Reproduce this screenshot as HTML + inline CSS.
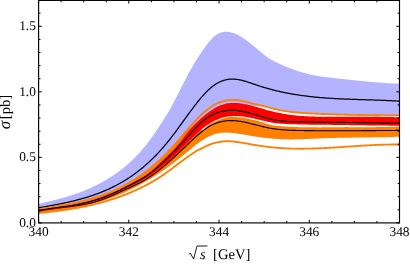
<!DOCTYPE html>
<html><head><meta charset="utf-8"><style>
html,body{margin:0;padding:0;background:#fff;}
body{width:410px;height:264px;overflow:hidden;font-family:"Liberation Serif",serif;}
svg{display:block;}
text{font-family:"Liberation Serif",serif;fill:#000;}
</style></head><body>
<svg width="410" height="264" viewBox="0 0 410 264">
<rect width="410" height="264" fill="#fff"/>
<defs><filter id="tf" x="0" y="0" width="410" height="264" filterUnits="userSpaceOnUse"><feOffset dx="0" dy="0"/></filter><clipPath id="c"><rect x="38.6" y="0.4" width="360.9" height="222.5"/></clipPath></defs>
<g clip-path="url(#c)">
<path d="M38.60,203.90 L39.50,203.70 L40.41,203.49 L41.31,203.28 L42.22,203.08 L43.12,202.87 L44.03,202.66 L44.93,202.45 L45.84,202.24 L46.74,202.02 L47.65,201.81 L48.55,201.59 L49.45,201.37 L50.36,201.15 L51.26,200.93 L52.17,200.71 L53.07,200.48 L53.98,200.26 L54.88,200.03 L55.79,199.80 L56.69,199.56 L57.59,199.32 L58.50,199.08 L59.40,198.84 L60.31,198.59 L61.21,198.35 L62.12,198.09 L63.02,197.84 L63.93,197.58 L64.83,197.32 L65.74,197.05 L66.64,196.78 L67.54,196.51 L68.45,196.23 L69.35,195.95 L70.26,195.67 L71.16,195.38 L72.07,195.08 L72.97,194.79 L73.88,194.48 L74.78,194.18 L75.68,193.87 L76.59,193.55 L77.49,193.23 L78.40,192.90 L79.30,192.57 L80.21,192.23 L81.11,191.89 L82.02,191.54 L82.92,191.19 L83.83,190.83 L84.73,190.47 L85.63,190.10 L86.54,189.72 L87.44,189.34 L88.35,188.95 L89.25,188.55 L90.16,188.15 L91.06,187.74 L91.97,187.33 L92.87,186.91 L93.78,186.48 L94.68,186.04 L95.58,185.60 L96.49,185.15 L97.39,184.70 L98.30,184.23 L99.20,183.76 L100.11,183.28 L101.01,182.79 L101.92,182.30 L102.82,181.80 L103.72,181.29 L104.63,180.77 L105.53,180.24 L106.44,179.71 L107.34,179.16 L108.25,178.61 L109.15,178.05 L110.06,177.48 L110.96,176.90 L111.87,176.32 L112.77,175.72 L113.67,175.11 L114.58,174.49 L115.48,173.87 L116.39,173.23 L117.29,172.58 L118.20,171.92 L119.10,171.25 L120.01,170.57 L120.91,169.87 L121.82,169.17 L122.72,168.45 L123.62,167.72 L124.53,166.97 L125.43,166.22 L126.34,165.45 L127.24,164.66 L128.15,163.87 L129.05,163.06 L129.96,162.23 L130.86,161.39 L131.76,160.54 L132.67,159.67 L133.57,158.79 L134.48,157.89 L135.38,156.97 L136.29,156.04 L137.19,155.10 L138.10,154.13 L139.00,153.15 L139.91,152.16 L140.81,151.14 L141.71,150.11 L142.62,149.06 L143.52,148.00 L144.43,146.91 L145.33,145.81 L146.24,144.69 L147.14,143.55 L148.05,142.39 L148.95,141.22 L149.85,140.02 L150.76,138.80 L151.66,137.57 L152.57,136.31 L153.47,135.03 L154.38,133.74 L155.28,132.42 L156.19,131.09 L157.09,129.75 L158.00,128.38 L158.90,127.01 L159.80,125.62 L160.71,124.22 L161.61,122.81 L162.52,121.39 L163.42,119.96 L164.33,118.53 L165.23,117.08 L166.14,115.62 L167.04,114.14 L167.95,112.65 L168.85,111.13 L169.75,109.58 L170.66,108.00 L171.56,106.40 L172.47,104.75 L173.37,103.07 L174.28,101.35 L175.18,99.60 L176.09,97.82 L176.99,96.03 L177.89,94.22 L178.80,92.40 L179.70,90.58 L180.61,88.77 L181.51,86.96 L182.42,85.17 L183.32,83.39 L184.23,81.63 L185.13,79.89 L186.04,78.16 L186.94,76.45 L187.84,74.77 L188.75,73.10 L189.65,71.45 L190.56,69.83 L191.46,68.23 L192.37,66.65 L193.27,65.10 L194.18,63.58 L195.08,62.09 L195.98,60.62 L196.89,59.18 L197.79,57.77 L198.70,56.37 L199.60,55.01 L200.51,53.66 L201.41,52.34 L202.32,51.03 L203.22,49.75 L204.13,48.48 L205.03,47.23 L205.93,46.00 L206.84,44.78 L207.74,43.58 L208.65,42.42 L209.55,41.29 L210.46,40.22 L211.36,39.20 L212.27,38.25 L213.17,37.37 L214.08,36.57 L214.98,35.84 L215.88,35.18 L216.79,34.58 L217.69,34.05 L218.60,33.58 L219.50,33.18 L220.41,32.83 L221.31,32.53 L222.22,32.29 L223.12,32.10 L224.02,31.96 L224.93,31.87 L225.83,31.83 L226.74,31.82 L227.64,31.86 L228.55,31.95 L229.45,32.07 L230.36,32.23 L231.26,32.43 L232.17,32.67 L233.07,32.94 L233.97,33.25 L234.88,33.59 L235.78,33.96 L236.69,34.36 L237.59,34.80 L238.50,35.26 L239.40,35.74 L240.31,36.26 L241.21,36.80 L242.12,37.36 L243.02,37.94 L243.92,38.55 L244.83,39.18 L245.73,39.82 L246.64,40.48 L247.54,41.16 L248.45,41.85 L249.35,42.56 L250.26,43.28 L251.16,44.01 L252.06,44.75 L252.97,45.50 L253.87,46.25 L254.78,47.01 L255.68,47.77 L256.59,48.54 L257.49,49.30 L258.40,50.06 L259.30,50.82 L260.21,51.57 L261.11,52.32 L262.01,53.05 L262.92,53.78 L263.82,54.49 L264.73,55.19 L265.63,55.87 L266.54,56.53 L267.44,57.18 L268.35,57.80 L269.25,58.40 L270.15,58.98 L271.06,59.53 L271.96,60.06 L272.87,60.57 L273.77,61.06 L274.68,61.53 L275.58,61.99 L276.49,62.43 L277.39,62.86 L278.30,63.28 L279.20,63.69 L280.10,64.10 L281.01,64.49 L281.91,64.88 L282.82,65.27 L283.72,65.66 L284.63,66.04 L285.53,66.41 L286.44,66.79 L287.34,67.15 L288.25,67.52 L289.15,67.88 L290.05,68.23 L290.96,68.58 L291.86,68.93 L292.77,69.26 L293.67,69.60 L294.58,69.93 L295.48,70.25 L296.39,70.57 L297.29,70.88 L298.19,71.18 L299.10,71.48 L300.00,71.77 L300.91,72.05 L301.81,72.33 L302.72,72.60 L303.62,72.87 L304.53,73.12 L305.43,73.37 L306.34,73.62 L307.24,73.85 L308.14,74.08 L309.05,74.29 L309.95,74.50 L310.86,74.71 L311.76,74.90 L312.67,75.09 L313.57,75.27 L314.48,75.44 L315.38,75.61 L316.28,75.77 L317.19,75.92 L318.09,76.07 L319.00,76.21 L319.90,76.35 L320.81,76.48 L321.71,76.61 L322.62,76.73 L323.52,76.85 L324.43,76.97 L325.33,77.09 L326.23,77.20 L327.14,77.30 L328.04,77.41 L328.95,77.51 L329.85,77.62 L330.76,77.72 L331.66,77.82 L332.57,77.92 L333.47,78.01 L334.38,78.11 L335.28,78.21 L336.18,78.31 L337.09,78.41 L337.99,78.50 L338.90,78.60 L339.80,78.70 L340.71,78.80 L341.61,78.90 L342.52,79.00 L343.42,79.10 L344.32,79.20 L345.23,79.29 L346.13,79.39 L347.04,79.49 L347.94,79.59 L348.85,79.69 L349.75,79.79 L350.66,79.88 L351.56,79.98 L352.47,80.08 L353.37,80.17 L354.27,80.27 L355.18,80.36 L356.08,80.46 L356.99,80.55 L357.89,80.64 L358.80,80.74 L359.70,80.83 L360.61,80.92 L361.51,81.01 L362.42,81.10 L363.32,81.19 L364.22,81.28 L365.13,81.36 L366.03,81.45 L366.94,81.53 L367.84,81.62 L368.75,81.70 L369.65,81.78 L370.56,81.86 L371.46,81.94 L372.36,82.02 L373.27,82.10 L374.17,82.17 L375.08,82.25 L375.98,82.32 L376.89,82.39 L377.79,82.46 L378.70,82.53 L379.60,82.60 L380.51,82.66 L381.41,82.73 L382.31,82.79 L383.22,82.85 L384.12,82.91 L385.03,82.97 L385.93,83.02 L386.84,83.08 L387.74,83.13 L388.65,83.18 L389.55,83.23 L390.45,83.27 L391.36,83.32 L392.26,83.36 L393.17,83.40 L394.07,83.44 L394.98,83.47 L395.88,83.50 L396.79,83.54 L397.69,83.56 L398.60,83.59 L399.50,83.62 L399.50,115.42 L398.60,115.42 L397.69,115.41 L396.79,115.40 L395.88,115.40 L394.98,115.39 L394.07,115.38 L393.17,115.38 L392.26,115.37 L391.36,115.36 L390.45,115.36 L389.55,115.35 L388.65,115.34 L387.74,115.34 L386.84,115.33 L385.93,115.32 L385.03,115.32 L384.12,115.31 L383.22,115.30 L382.31,115.29 L381.41,115.28 L380.51,115.28 L379.60,115.27 L378.70,115.26 L377.79,115.25 L376.89,115.24 L375.98,115.23 L375.08,115.22 L374.17,115.21 L373.27,115.20 L372.36,115.19 L371.46,115.18 L370.56,115.17 L369.65,115.16 L368.75,115.15 L367.84,115.13 L366.94,115.12 L366.03,115.11 L365.13,115.10 L364.22,115.08 L363.32,115.07 L362.42,115.06 L361.51,115.04 L360.61,115.03 L359.70,115.01 L358.80,115.00 L357.89,114.98 L356.99,114.96 L356.08,114.95 L355.18,114.93 L354.27,114.91 L353.37,114.90 L352.47,114.88 L351.56,114.86 L350.66,114.84 L349.75,114.82 L348.85,114.80 L347.94,114.78 L347.04,114.76 L346.13,114.74 L345.23,114.72 L344.32,114.70 L343.42,114.67 L342.52,114.65 L341.61,114.63 L340.71,114.60 L339.80,114.58 L338.90,114.55 L337.99,114.53 L337.09,114.50 L336.18,114.47 L335.28,114.45 L334.38,114.42 L333.47,114.39 L332.57,114.36 L331.66,114.33 L330.76,114.30 L329.85,114.27 L328.95,114.24 L328.04,114.20 L327.14,114.17 L326.23,114.14 L325.33,114.10 L324.43,114.07 L323.52,114.03 L322.62,114.00 L321.71,113.96 L320.81,113.92 L319.90,113.88 L319.00,113.85 L318.09,113.81 L317.19,113.77 L316.28,113.73 L315.38,113.68 L314.48,113.64 L313.57,113.60 L312.67,113.55 L311.76,113.51 L310.86,113.46 L309.95,113.41 L309.05,113.37 L308.14,113.32 L307.24,113.26 L306.34,113.21 L305.43,113.16 L304.53,113.10 L303.62,113.04 L302.72,112.98 L301.81,112.92 L300.91,112.86 L300.00,112.79 L299.10,112.72 L298.19,112.65 L297.29,112.57 L296.39,112.50 L295.48,112.42 L294.58,112.34 L293.67,112.25 L292.77,112.16 L291.86,112.07 L290.96,111.95 L290.05,111.82 L289.15,111.70 L288.25,111.56 L287.34,111.43 L286.44,111.29 L285.53,111.15 L284.63,111.00 L283.72,110.85 L282.82,110.69 L281.91,110.52 L281.01,110.35 L280.10,110.18 L279.20,109.99 L278.30,109.80 L277.39,109.61 L276.49,109.40 L275.58,109.19 L274.68,108.98 L273.77,108.76 L272.87,108.53 L271.96,108.30 L271.06,108.08 L270.15,107.86 L269.25,107.64 L268.35,107.41 L267.44,107.18 L266.54,106.94 L265.63,106.70 L264.73,106.46 L263.82,106.26 L262.92,106.26 L262.01,106.26 L261.11,106.29 L260.21,106.32 L259.30,106.34 L258.40,106.35 L257.49,106.35 L256.59,106.35 L255.68,106.34 L254.78,106.33 L253.87,106.31 L252.97,106.30 L252.06,106.28 L251.16,106.27 L250.26,106.26 L249.35,106.10 L248.45,105.89 L247.54,105.69 L246.64,105.49 L245.73,105.31 L244.83,105.13 L243.92,104.96 L243.02,104.81 L242.12,104.66 L241.21,104.53 L240.31,104.41 L239.40,104.30 L238.50,104.20 L237.59,104.12 L236.69,104.05 L235.78,104.00 L234.88,103.97 L233.97,103.95 L233.07,103.95 L232.17,103.96 L231.26,104.00 L230.36,104.06 L229.45,104.14 L228.55,104.25 L227.64,104.37 L226.74,104.53 L225.83,104.71 L224.93,104.91 L224.02,105.14 L223.12,105.41 L222.22,105.70 L221.31,106.02 L220.41,106.37 L219.50,106.76 L218.60,107.17 L217.69,107.61 L216.79,108.07 L215.88,108.57 L214.98,109.08 L214.08,109.62 L213.17,110.18 L212.27,110.76 L211.36,111.36 L210.46,111.98 L209.55,112.62 L208.65,113.27 L207.74,113.93 L206.84,114.62 L205.93,115.31 L205.03,116.02 L204.13,116.75 L203.22,117.49 L202.32,118.25 L201.41,119.03 L200.51,119.83 L199.60,120.64 L198.70,121.47 L197.79,122.33 L196.89,123.20 L195.98,124.10 L195.08,125.01 L194.18,125.95 L193.27,126.91 L192.37,127.90 L191.46,128.91 L190.56,129.94 L189.65,131.00 L188.75,132.08 L187.84,133.19 L186.94,134.32 L186.04,135.46 L185.13,136.62 L184.23,137.78 L183.32,138.95 L182.42,140.12 L181.51,141.28 L180.61,142.43 L179.70,143.57 L178.80,144.69 L177.89,145.79 L176.99,146.86 L176.09,147.90 L175.18,148.92 L174.28,149.91 L173.37,150.88 L172.47,151.83 L171.56,152.76 L170.66,153.67 L169.75,154.57 L168.85,155.46 L167.95,156.34 L167.04,157.21 L166.14,158.07 L165.23,158.93 L164.33,159.79 L163.42,160.65 L162.52,161.52 L161.61,162.39 L160.71,163.26 L159.80,164.14 L158.90,165.03 L158.00,165.91 L157.09,166.80 L156.19,167.67 L155.28,168.54 L154.38,169.39 L153.47,170.22 L152.57,171.03 L151.66,171.82 L150.76,172.58 L149.85,173.31 L148.95,174.01 L148.05,174.68 L147.14,175.32 L146.24,175.94 L145.33,176.53 L144.43,177.11 L143.52,177.67 L142.62,178.22 L141.71,178.75 L140.81,179.27 L139.91,179.79 L139.00,180.30 L138.10,180.80 L137.19,181.31 L136.29,181.81 L135.38,182.31 L134.48,182.82 L133.57,183.32 L132.67,183.81 L131.76,184.31 L130.86,184.80 L129.96,185.29 L129.05,185.78 L128.15,186.27 L127.24,186.75 L126.34,187.23 L125.43,187.71 L124.53,188.18 L123.62,188.64 L122.72,189.11 L121.82,189.57 L120.91,190.02 L120.01,190.47 L119.10,190.91 L118.20,191.35 L117.29,191.78 L116.39,192.20 L115.48,192.62 L114.58,193.03 L113.67,193.44 L112.77,193.84 L111.87,194.23 L110.96,194.61 L110.06,194.99 L109.15,195.36 L108.25,195.73 L107.34,196.08 L106.44,196.43 L105.53,196.78 L104.63,197.11 L103.72,197.45 L102.82,197.77 L101.92,198.09 L101.01,198.40 L100.11,198.71 L99.20,199.01 L98.30,199.31 L97.39,199.60 L96.49,199.88 L95.58,200.16 L94.68,200.43 L93.78,200.70 L92.87,200.96 L91.97,201.22 L91.06,201.47 L90.16,201.72 L89.25,201.97 L88.35,202.20 L87.44,202.44 L86.54,202.67 L85.63,202.89 L84.73,203.11 L83.83,203.33 L82.92,203.54 L82.02,203.75 L81.11,203.96 L80.21,204.16 L79.30,204.36 L78.40,204.55 L77.49,204.74 L76.59,204.93 L75.68,205.11 L74.78,205.29 L73.88,205.47 L72.97,205.64 L72.07,205.81 L71.16,205.98 L70.26,206.15 L69.35,206.31 L68.45,206.47 L67.54,206.63 L66.64,206.78 L65.74,206.94 L64.83,207.09 L63.93,207.24 L63.02,207.38 L62.12,207.53 L61.21,207.67 L60.31,207.82 L59.40,207.96 L58.50,208.10 L57.59,208.23 L56.69,208.37 L55.79,208.50 L54.88,208.64 L53.98,208.77 L53.07,208.90 L52.17,209.03 L51.26,209.17 L50.36,209.30 L49.45,209.43 L48.55,209.55 L47.65,209.68 L46.74,209.81 L45.84,209.94 L44.93,210.07 L44.03,210.20 L43.12,210.33 L42.22,210.45 L41.31,210.58 L40.41,210.71 L39.50,210.84 L38.60,210.98 Z" fill="#b3b3ff"/>
<path d="M38.60,207.81 L39.50,207.65 L40.41,207.49 L41.31,207.33 L42.22,207.18 L43.12,207.02 L44.03,206.86 L44.93,206.70 L45.84,206.54 L46.74,206.38 L47.65,206.22 L48.55,206.06 L49.45,205.89 L50.36,205.73 L51.26,205.56 L52.17,205.40 L53.07,205.23 L53.98,205.06 L54.88,204.89 L55.79,204.72 L56.69,204.54 L57.59,204.37 L58.50,204.19 L59.40,204.01 L60.31,203.83 L61.21,203.65 L62.12,203.46 L63.02,203.27 L63.93,203.08 L64.83,202.89 L65.74,202.70 L66.64,202.50 L67.54,202.30 L68.45,202.10 L69.35,201.89 L70.26,201.69 L71.16,201.47 L72.07,201.26 L72.97,201.04 L73.88,200.82 L74.78,200.60 L75.68,200.37 L76.59,200.14 L77.49,199.91 L78.40,199.67 L79.30,199.43 L80.21,199.18 L81.11,198.93 L82.02,198.68 L82.92,198.42 L83.83,198.16 L84.73,197.89 L85.63,197.62 L86.54,197.35 L87.44,197.07 L88.35,196.79 L89.25,196.50 L90.16,196.21 L91.06,195.91 L91.97,195.61 L92.87,195.30 L93.78,194.99 L94.68,194.67 L95.58,194.35 L96.49,194.02 L97.39,193.68 L98.30,193.35 L99.20,193.00 L100.11,192.65 L101.01,192.29 L101.92,191.93 L102.82,191.56 L103.72,191.19 L104.63,190.81 L105.53,190.42 L106.44,190.03 L107.34,189.63 L108.25,189.23 L109.15,188.81 L110.06,188.39 L110.96,187.97 L111.87,187.53 L112.77,187.09 L113.67,186.64 L114.58,186.19 L115.48,185.72 L116.39,185.25 L117.29,184.77 L118.20,184.28 L119.10,183.79 L120.01,183.28 L120.91,182.77 L121.82,182.25 L122.72,181.72 L123.62,181.18 L124.53,180.64 L125.43,180.08 L126.34,179.52 L127.24,178.94 L128.15,178.36 L129.05,177.77 L129.96,177.16 L130.86,176.55 L131.76,175.93 L132.67,175.30 L133.57,174.66 L134.48,174.01 L135.38,173.34 L136.29,172.67 L137.19,171.99 L138.10,171.29 L139.00,170.59 L139.91,169.88 L140.81,169.15 L141.71,168.41 L142.62,167.66 L143.52,166.90 L144.43,166.13 L145.33,165.35 L146.24,164.56 L147.14,163.75 L148.05,162.93 L148.95,162.10 L149.85,161.26 L150.76,160.40 L151.66,159.54 L152.57,158.66 L153.47,157.76 L154.38,156.86 L155.28,155.94 L156.19,155.01 L157.09,154.06 L158.00,153.11 L158.90,152.14 L159.80,151.15 L160.71,150.15 L161.61,149.14 L162.52,148.11 L163.42,147.07 L164.33,146.02 L165.23,144.95 L166.14,143.86 L167.04,142.77 L167.95,141.66 L168.85,140.53 L169.75,139.40 L170.66,138.25 L171.56,137.09 L172.47,135.92 L173.37,134.74 L174.28,133.55 L175.18,132.35 L176.09,131.13 L176.99,129.91 L177.89,128.69 L178.80,127.45 L179.70,126.21 L180.61,124.96 L181.51,123.71 L182.42,122.46 L183.32,121.20 L184.23,119.95 L185.13,118.69 L186.04,117.44 L186.94,116.19 L187.84,114.94 L188.75,113.70 L189.65,112.46 L190.56,111.23 L191.46,110.01 L192.37,108.79 L193.27,107.59 L194.18,106.40 L195.08,105.21 L195.98,104.05 L196.89,102.89 L197.79,101.76 L198.70,100.64 L199.60,99.53 L200.51,98.45 L201.41,97.39 L202.32,96.34 L203.22,95.32 L204.13,94.33 L205.03,93.36 L205.93,92.41 L206.84,91.49 L207.74,90.60 L208.65,89.74 L209.55,88.91 L210.46,88.11 L211.36,87.34 L212.27,86.61 L213.17,85.91 L214.08,85.25 L214.98,84.62 L215.88,84.03 L216.79,83.48 L217.69,82.96 L218.60,82.47 L219.50,82.02 L220.41,81.61 L221.31,81.23 L222.22,80.88 L223.12,80.56 L224.02,80.27 L224.93,80.02 L225.83,79.80 L226.74,79.61 L227.64,79.44 L228.55,79.31 L229.45,79.21 L230.36,79.13 L231.26,79.09 L232.17,79.07 L233.07,79.08 L233.97,79.11 L234.88,79.17 L235.78,79.26 L236.69,79.37 L237.59,79.50 L238.50,79.65 L239.40,79.82 L240.31,80.01 L241.21,80.21 L242.12,80.44 L243.02,80.67 L243.92,80.92 L244.83,81.18 L245.73,81.44 L246.64,81.72 L247.54,82.00 L248.45,82.29 L249.35,82.59 L250.26,82.89 L251.16,83.19 L252.06,83.49 L252.97,83.79 L253.87,84.10 L254.78,84.41 L255.68,84.71 L256.59,85.02 L257.49,85.32 L258.40,85.62 L259.30,85.92 L260.21,86.22 L261.11,86.51 L262.01,86.80 L262.92,87.08 L263.82,87.35 L264.73,87.63 L265.63,87.90 L266.54,88.16 L267.44,88.42 L268.35,88.68 L269.25,88.93 L270.15,89.17 L271.06,89.42 L271.96,89.66 L272.87,89.89 L273.77,90.12 L274.68,90.35 L275.58,90.57 L276.49,90.79 L277.39,91.01 L278.30,91.22 L279.20,91.43 L280.10,91.63 L281.01,91.83 L281.91,92.03 L282.82,92.22 L283.72,92.41 L284.63,92.60 L285.53,92.78 L286.44,92.96 L287.34,93.13 L288.25,93.31 L289.15,93.47 L290.05,93.64 L290.96,93.80 L291.86,93.96 L292.77,94.12 L293.67,94.27 L294.58,94.42 L295.48,94.57 L296.39,94.71 L297.29,94.85 L298.19,94.99 L299.10,95.12 L300.00,95.25 L300.91,95.38 L301.81,95.51 L302.72,95.63 L303.62,95.75 L304.53,95.87 L305.43,95.99 L306.34,96.10 L307.24,96.21 L308.14,96.32 L309.05,96.42 L309.95,96.53 L310.86,96.63 L311.76,96.73 L312.67,96.82 L313.57,96.91 L314.48,97.01 L315.38,97.09 L316.28,97.18 L317.19,97.27 L318.09,97.35 L319.00,97.43 L319.90,97.51 L320.81,97.59 L321.71,97.66 L322.62,97.73 L323.52,97.80 L324.43,97.87 L325.33,97.94 L326.23,98.01 L327.14,98.07 L328.04,98.13 L328.95,98.19 L329.85,98.25 L330.76,98.31 L331.66,98.37 L332.57,98.42 L333.47,98.47 L334.38,98.53 L335.28,98.58 L336.18,98.62 L337.09,98.67 L337.99,98.72 L338.90,98.76 L339.80,98.81 L340.71,98.85 L341.61,98.89 L342.52,98.94 L343.42,98.98 L344.32,99.01 L345.23,99.05 L346.13,99.09 L347.04,99.13 L347.94,99.16 L348.85,99.20 L349.75,99.23 L350.66,99.27 L351.56,99.30 L352.47,99.33 L353.37,99.36 L354.27,99.39 L355.18,99.43 L356.08,99.46 L356.99,99.49 L357.89,99.52 L358.80,99.54 L359.70,99.57 L360.61,99.60 L361.51,99.63 L362.42,99.66 L363.32,99.69 L364.22,99.72 L365.13,99.74 L366.03,99.77 L366.94,99.80 L367.84,99.83 L368.75,99.86 L369.65,99.88 L370.56,99.91 L371.46,99.94 L372.36,99.97 L373.27,100.00 L374.17,100.03 L375.08,100.06 L375.98,100.09 L376.89,100.12 L377.79,100.15 L378.70,100.19 L379.60,100.22 L380.51,100.25 L381.41,100.29 L382.31,100.32 L383.22,100.36 L384.12,100.39 L385.03,100.43 L385.93,100.47 L386.84,100.51 L387.74,100.55 L388.65,100.59 L389.55,100.63 L390.45,100.67 L391.36,100.71 L392.26,100.76 L393.17,100.80 L394.07,100.85 L394.98,100.90 L395.88,100.95 L396.79,101.00 L397.69,101.05 L398.60,101.11 L399.50,101.16" fill="none" stroke="#000" stroke-width="1.25"/>
<path d="M38.60,209.20 L39.50,209.06 L40.41,208.92 L41.31,208.78 L42.22,208.64 L43.12,208.51 L44.03,208.37 L44.93,208.23 L45.84,208.09 L46.74,207.95 L47.65,207.81 L48.55,207.67 L49.45,207.53 L50.36,207.39 L51.26,207.24 L52.17,207.10 L53.07,206.95 L53.98,206.81 L54.88,206.66 L55.79,206.51 L56.69,206.36 L57.59,206.21 L58.50,206.05 L59.40,205.90 L60.31,205.74 L61.21,205.58 L62.12,205.42 L63.02,205.26 L63.93,205.10 L64.83,204.93 L65.74,204.76 L66.64,204.59 L67.54,204.42 L68.45,204.24 L69.35,204.07 L70.26,203.89 L71.16,203.70 L72.07,203.52 L72.97,203.33 L73.88,203.14 L74.78,202.94 L75.68,202.74 L76.59,202.54 L77.49,202.34 L78.40,202.13 L79.30,201.92 L80.21,201.71 L81.11,201.49 L82.02,201.27 L82.92,201.04 L83.83,200.82 L84.73,200.58 L85.63,200.35 L86.54,200.11 L87.44,199.86 L88.35,199.61 L89.25,199.36 L90.16,199.10 L91.06,198.84 L91.97,198.57 L92.87,198.30 L93.78,198.03 L94.68,197.75 L95.58,197.46 L96.49,197.17 L97.39,196.88 L98.30,196.58 L99.20,196.27 L100.11,195.96 L101.01,195.65 L101.92,195.33 L102.82,195.00 L103.72,194.67 L104.63,194.33 L105.53,193.99 L106.44,193.64 L107.34,193.28 L108.25,192.92 L109.15,192.56 L110.06,192.18 L110.96,191.80 L111.87,191.42 L112.77,191.03 L113.67,190.63 L114.58,190.23 L115.48,189.81 L116.39,189.40 L117.29,188.97 L118.20,188.54 L119.10,188.10 L120.01,187.66 L120.91,187.21 L121.82,186.75 L122.72,186.28 L123.62,185.81 L124.53,185.33 L125.43,184.84 L126.34,184.34 L127.24,183.84 L128.15,183.33 L129.05,182.81 L129.96,182.28 L130.86,181.75 L131.76,181.21 L132.67,180.66 L133.57,180.10 L134.48,179.53 L135.38,178.96 L136.29,178.37 L137.19,177.78 L138.10,177.18 L139.00,176.57 L139.91,175.95 L140.81,175.33 L141.71,174.69 L142.62,174.05 L143.52,173.39 L144.43,172.73 L145.33,172.05 L146.24,171.37 L147.14,170.67 L148.05,169.97 L148.95,169.26 L149.85,168.53 L150.76,167.79 L151.66,167.05 L152.57,166.29 L153.47,165.52 L154.38,164.74 L155.28,163.95 L156.19,163.14 L157.09,162.33 L158.00,161.50 L158.90,160.66 L159.80,159.81 L160.71,158.94 L161.61,158.07 L162.52,157.18 L163.42,156.28 L164.33,155.38 L165.23,154.46 L166.14,153.53 L167.04,152.60 L167.95,151.65 L168.85,150.70 L169.75,149.73 L170.66,148.76 L171.56,147.78 L172.47,146.80 L173.37,145.80 L174.28,144.80 L175.18,143.79 L176.09,142.78 L176.99,141.76 L177.89,140.74 L178.80,139.71 L179.70,138.67 L180.61,137.64 L181.51,136.60 L182.42,135.56 L183.32,134.52 L184.23,133.54 L185.13,132.76 L186.04,131.96 L186.94,131.15 L187.84,130.33 L188.75,129.51 L189.65,128.69 L190.56,127.88 L191.46,127.08 L192.37,126.30 L193.27,125.53 L194.18,124.79 L195.08,124.07 L195.98,123.38 L196.89,122.71 L197.79,122.07 L198.70,121.27 L199.60,129.95 L200.51,130.07 L201.41,130.12 L202.32,130.08 L203.22,129.71 L204.13,129.04 L205.03,128.16 L205.93,127.18 L206.84,126.20 L207.74,125.32 L208.65,124.63 L209.55,124.08 L210.46,123.58 L211.36,123.14 L212.27,122.71 L213.17,122.31 L214.08,121.92 L214.98,121.54 L215.88,121.15 L216.79,120.76 L217.69,120.37 L218.60,120.00 L219.50,119.64 L220.41,119.30 L221.31,119.00 L222.22,118.71 L223.12,118.43 L224.02,118.17 L224.93,117.94 L225.83,117.73 L226.74,117.54 L227.64,117.35 L228.55,117.16 L229.45,117.02 L230.36,116.92 L231.26,116.90 L232.17,116.91 L233.07,116.93 L233.97,116.96 L234.88,117.00 L235.78,117.04 L236.69,117.08 L237.59,117.13 L238.50,117.19 L239.40,117.27 L240.31,117.36 L241.21,117.46 L242.12,117.58 L243.02,117.74 L243.92,117.91 L244.83,118.09 L245.73,118.28 L246.64,118.47 L247.54,118.67 L248.45,118.87 L249.35,119.08 L250.26,119.29 L251.16,119.51 L252.06,119.72 L252.97,119.90 L253.87,120.08 L254.78,120.26 L255.68,120.44 L256.59,120.65 L257.49,120.87 L258.40,121.12 L259.30,121.37 L260.21,121.65 L261.11,121.93 L262.01,122.22 L262.92,122.51 L263.82,122.80 L264.73,123.10 L265.63,123.39 L266.54,123.68 L267.44,123.96 L268.35,124.22 L269.25,124.48 L270.15,124.71 L271.06,124.93 L271.96,125.13 L272.87,125.30 L273.77,125.45 L274.68,125.57 L275.58,125.66 L276.49,125.75 L277.39,125.83 L278.30,125.91 L279.20,126.00 L280.10,126.07 L281.01,126.15 L281.91,126.22 L282.82,126.29 L283.72,126.36 L284.63,126.43 L285.53,126.49 L286.44,126.55 L287.34,126.61 L288.25,126.67 L289.15,126.72 L290.05,126.77 L290.96,126.82 L291.86,126.87 L292.77,126.91 L293.67,126.95 L294.58,126.99 L295.48,127.03 L296.39,127.06 L297.29,127.09 L298.19,127.12 L299.10,127.14 L300.00,127.16 L300.91,127.18 L301.81,127.20 L302.72,127.21 L303.62,127.22 L304.53,127.24 L305.43,127.25 L306.34,127.26 L307.24,127.27 L308.14,127.28 L309.05,127.29 L309.95,127.30 L310.86,127.31 L311.76,127.32 L312.67,127.33 L313.57,127.34 L314.48,127.35 L315.38,127.35 L316.28,127.36 L317.19,127.37 L318.09,127.37 L319.00,127.38 L319.90,127.38 L320.81,127.38 L321.71,127.37 L322.62,127.36 L323.52,127.35 L324.43,127.34 L325.33,127.33 L326.23,127.32 L327.14,127.31 L328.04,127.30 L328.95,127.29 L329.85,127.28 L330.76,127.27 L331.66,127.27 L332.57,127.26 L333.47,127.25 L334.38,127.24 L335.28,127.23 L336.18,127.22 L337.09,127.21 L337.99,127.20 L338.90,127.19 L339.80,127.18 L340.71,127.17 L341.61,127.16 L342.52,127.15 L343.42,127.14 L344.32,127.13 L345.23,127.12 L346.13,127.12 L347.04,127.12 L347.94,127.13 L348.85,127.13 L349.75,127.13 L350.66,127.13 L351.56,127.13 L352.47,127.13 L353.37,127.14 L354.27,127.14 L355.18,127.14 L356.08,127.14 L356.99,127.14 L357.89,127.14 L358.80,127.14 L359.70,127.15 L360.61,127.15 L361.51,127.15 L362.42,127.15 L363.32,127.15 L364.22,127.15 L365.13,127.15 L366.03,127.15 L366.94,127.15 L367.84,127.15 L368.75,127.15 L369.65,127.15 L370.56,127.15 L371.46,127.15 L372.36,127.14 L373.27,127.14 L374.17,127.13 L375.08,127.13 L375.98,127.12 L376.89,127.11 L377.79,127.10 L378.70,127.09 L379.60,127.08 L380.51,127.07 L381.41,127.06 L382.31,127.05 L383.22,127.04 L384.12,127.02 L385.03,127.01 L385.93,127.00 L386.84,126.98 L387.74,126.97 L388.65,126.95 L389.55,126.94 L390.45,126.92 L391.36,126.90 L392.26,126.89 L393.17,126.87 L394.07,126.85 L394.98,126.84 L395.88,126.82 L396.79,126.80 L397.69,126.78 L398.60,126.77 L399.50,126.75 L399.50,136.66 L398.60,136.70 L397.69,136.74 L396.79,136.78 L395.88,136.81 L394.98,136.85 L394.07,136.88 L393.17,136.91 L392.26,136.94 L391.36,136.97 L390.45,137.00 L389.55,137.03 L388.65,137.05 L387.74,137.08 L386.84,137.10 L385.93,137.13 L385.03,137.15 L384.12,137.17 L383.22,137.19 L382.31,137.21 L381.41,137.23 L380.51,137.25 L379.60,137.27 L378.70,137.28 L377.79,137.30 L376.89,137.31 L375.98,137.33 L375.08,137.34 L374.17,137.36 L373.27,137.37 L372.36,137.38 L371.46,137.40 L370.56,137.41 L369.65,137.42 L368.75,137.43 L367.84,137.44 L366.94,137.45 L366.03,137.46 L365.13,137.47 L364.22,137.48 L363.32,137.49 L362.42,137.50 L361.51,137.51 L360.61,137.52 L359.70,137.53 L358.80,137.54 L357.89,137.55 L356.99,137.56 L356.08,137.57 L355.18,137.58 L354.27,137.59 L353.37,137.60 L352.47,137.61 L351.56,137.62 L350.66,137.63 L349.75,137.65 L348.85,137.66 L347.94,137.67 L347.04,137.68 L346.13,137.70 L345.23,137.71 L344.32,137.73 L343.42,137.74 L342.52,137.76 L341.61,137.77 L340.71,137.79 L339.80,137.81 L338.90,137.82 L337.99,137.84 L337.09,137.86 L336.18,137.88 L335.28,137.91 L334.38,137.93 L333.47,137.95 L332.57,137.98 L331.66,138.00 L330.76,138.03 L329.85,138.06 L328.95,138.08 L328.04,138.11 L327.14,138.14 L326.23,138.18 L325.33,138.21 L324.43,138.24 L323.52,138.28 L322.62,138.32 L321.71,138.36 L320.81,138.39 L319.90,138.43 L319.00,138.47 L318.09,138.51 L317.19,138.55 L316.28,138.60 L315.38,138.64 L314.48,138.68 L313.57,138.72 L312.67,138.76 L311.76,138.80 L310.86,138.84 L309.95,138.88 L309.05,138.92 L308.14,138.96 L307.24,139.00 L306.34,139.03 L305.43,139.07 L304.53,139.10 L303.62,139.14 L302.72,139.17 L301.81,139.20 L300.91,139.23 L300.00,139.25 L299.10,139.28 L298.19,139.30 L297.29,139.32 L296.39,139.34 L295.48,139.35 L294.58,139.37 L293.67,139.38 L292.77,139.38 L291.86,139.39 L290.96,139.39 L290.05,139.39 L289.15,139.39 L288.25,139.38 L287.34,139.37 L286.44,139.35 L285.53,139.34 L284.63,139.31 L283.72,139.29 L282.82,139.26 L281.91,139.22 L281.01,139.19 L280.10,139.14 L279.20,139.10 L278.30,139.05 L277.39,138.99 L276.49,138.93 L275.58,138.87 L274.68,138.80 L273.77,138.73 L272.87,138.65 L271.96,138.57 L271.06,138.48 L270.15,138.40 L269.25,138.30 L268.35,138.21 L267.44,138.11 L266.54,138.01 L265.63,137.90 L264.73,137.80 L263.82,137.69 L262.92,137.57 L262.01,137.45 L261.11,137.33 L260.21,137.21 L259.30,137.09 L258.40,136.96 L257.49,136.83 L256.59,136.70 L255.68,136.56 L254.78,136.42 L253.87,136.29 L252.97,136.14 L252.06,136.00 L251.16,135.86 L250.26,135.71 L249.35,135.56 L248.45,135.41 L247.54,135.26 L246.64,135.11 L245.73,134.96 L244.83,134.80 L243.92,134.65 L243.02,134.49 L242.12,134.34 L241.21,134.19 L240.31,134.04 L239.40,133.89 L238.50,133.75 L237.59,133.61 L236.69,133.47 L235.78,133.35 L234.88,133.23 L233.97,133.12 L233.07,133.02 L232.17,132.93 L231.26,132.84 L230.36,132.77 L229.45,132.72 L228.55,132.67 L227.64,132.64 L226.74,132.62 L225.83,132.62 L224.93,132.64 L224.02,132.67 L223.12,132.72 L222.22,132.79 L221.31,132.87 L220.41,132.98 L219.50,133.11 L218.60,133.26 L217.69,133.44 L216.79,133.63 L215.88,133.85 L214.98,134.10 L214.08,134.37 L213.17,134.67 L212.27,135.00 L211.36,135.35 L210.46,135.73 L209.55,136.15 L208.65,136.59 L207.74,137.07 L206.84,137.57 L205.93,138.10 L205.03,138.66 L204.13,139.24 L203.22,139.79 L202.32,140.36 L201.41,140.94 L200.51,141.54 L199.60,142.15 L198.70,142.78 L197.79,143.42 L196.89,144.07 L195.98,144.72 L195.08,145.45 L194.18,146.18 L193.27,146.92 L192.37,147.66 L191.46,148.41 L190.56,149.16 L189.65,149.92 L188.75,150.68 L187.84,151.44 L186.94,152.19 L186.04,152.95 L185.13,153.71 L184.23,154.46 L183.32,155.21 L182.42,155.95 L181.51,156.69 L180.61,157.42 L179.70,158.15 L178.80,158.87 L177.89,159.58 L176.99,160.29 L176.09,161.00 L175.18,161.70 L174.28,162.39 L173.37,163.08 L172.47,163.77 L171.56,164.44 L170.66,165.12 L169.75,165.78 L168.85,166.44 L167.95,167.10 L167.04,167.75 L166.14,168.40 L165.23,169.04 L164.33,169.67 L163.42,170.30 L162.52,170.93 L161.61,171.55 L160.71,172.16 L159.80,172.77 L158.90,173.37 L158.00,173.97 L157.09,174.57 L156.19,175.15 L155.28,175.74 L154.38,176.31 L153.47,176.88 L152.57,177.45 L151.66,178.01 L150.76,178.57 L149.85,179.12 L148.95,179.67 L148.05,180.21 L147.14,180.74 L146.24,181.27 L145.33,181.80 L144.43,182.32 L143.52,182.83 L142.62,183.34 L141.71,183.85 L140.81,184.35 L139.91,184.84 L139.00,185.33 L138.10,185.82 L137.19,186.30 L136.29,186.77 L135.38,187.24 L134.48,187.71 L133.57,188.16 L132.67,188.62 L131.76,189.07 L130.86,189.51 L129.96,189.95 L129.05,190.39 L128.15,190.82 L127.24,191.24 L126.34,191.66 L125.43,192.07 L124.53,192.48 L123.62,192.89 L122.72,193.29 L121.82,193.68 L120.91,194.08 L120.01,194.46 L119.10,194.84 L118.20,195.22 L117.29,195.59 L116.39,195.96 L115.48,196.32 L114.58,196.68 L113.67,197.03 L112.77,197.38 L111.87,197.72 L110.96,198.06 L110.06,198.39 L109.15,198.72 L108.25,199.04 L107.34,199.36 L106.44,199.68 L105.53,199.99 L104.63,200.30 L103.72,200.60 L102.82,200.90 L101.92,201.19 L101.01,201.48 L100.11,201.76 L99.20,202.04 L98.30,202.31 L97.39,202.59 L96.49,202.85 L95.58,203.11 L94.68,203.37 L93.78,203.62 L92.87,203.87 L91.97,204.12 L91.06,204.36 L90.16,204.60 L89.25,204.83 L88.35,205.06 L87.44,205.28 L86.54,205.51 L85.63,205.72 L84.73,205.94 L83.83,206.15 L82.92,206.36 L82.02,206.56 L81.11,206.76 L80.21,206.95 L79.30,207.15 L78.40,207.34 L77.49,207.52 L76.59,207.70 L75.68,207.88 L74.78,208.06 L73.88,208.23 L72.97,208.40 L72.07,208.57 L71.16,208.73 L70.26,208.89 L69.35,209.05 L68.45,209.20 L67.54,209.35 L66.64,209.50 L65.74,209.65 L64.83,209.79 L63.93,209.93 L63.02,210.07 L62.12,210.21 L61.21,210.34 L60.31,210.47 L59.40,210.60 L58.50,210.72 L57.59,210.84 L56.69,210.96 L55.79,211.08 L54.88,211.20 L53.98,211.31 L53.07,211.42 L52.17,211.53 L51.26,211.64 L50.36,211.74 L49.45,211.85 L48.55,211.95 L47.65,212.05 L46.74,212.15 L45.84,212.24 L44.93,212.34 L44.03,212.43 L43.12,212.52 L42.22,212.61 L41.31,212.70 L40.41,212.78 L39.50,212.87 L38.60,212.95 Z" fill="#ff8000"/>
<path d="M38.60,209.20 L39.50,209.06 L40.41,208.92 L41.31,208.78 L42.22,208.64 L43.12,208.51 L44.03,208.37 L44.93,208.23 L45.84,208.09 L46.74,207.95 L47.65,207.81 L48.55,207.67 L49.45,207.53 L50.36,207.39 L51.26,207.24 L52.17,207.10 L53.07,206.95 L53.98,206.81 L54.88,206.66 L55.79,206.51 L56.69,206.36 L57.59,206.21 L58.50,206.05 L59.40,205.90 L60.31,205.74 L61.21,205.58 L62.12,205.42 L63.02,205.26 L63.93,205.10 L64.83,204.93 L65.74,204.76 L66.64,204.59 L67.54,204.42 L68.45,204.24 L69.35,204.07 L70.26,203.89 L71.16,203.70 L72.07,203.52 L72.97,203.33 L73.88,203.14 L74.78,202.94 L75.68,202.74 L76.59,202.54 L77.49,202.34 L78.40,202.13 L79.30,201.92 L80.21,201.71 L81.11,201.49 L82.02,201.27 L82.92,201.04 L83.83,200.82 L84.73,200.58 L85.63,200.35 L86.54,200.11 L87.44,199.86 L88.35,199.61 L89.25,199.36 L90.16,199.10 L91.06,198.84 L91.97,198.57 L92.87,198.30 L93.78,198.03 L94.68,197.75 L95.58,197.46 L96.49,197.17 L97.39,196.88 L98.30,196.58 L99.20,196.27 L100.11,195.96 L101.01,195.65 L101.92,195.33 L102.82,195.00 L103.72,194.67 L104.63,194.33 L105.53,193.99 L106.44,193.64 L107.34,193.28 L108.25,192.92 L109.15,192.56 L110.06,192.18 L110.96,191.80 L111.87,191.42 L112.77,191.03 L113.67,190.63 L114.58,190.23 L115.48,189.81 L116.39,189.40 L117.29,188.97 L118.20,188.54 L119.10,188.10 L120.01,187.66 L120.91,187.21 L121.82,186.75 L122.72,186.28 L123.62,185.81 L124.53,185.33 L125.43,184.84 L126.34,184.34 L127.24,183.84 L128.15,183.33 L129.05,182.81 L129.96,182.28 L130.86,181.75 L131.76,181.21 L132.67,180.66 L133.57,180.10 L134.48,179.53 L135.38,178.96 L136.29,178.37 L137.19,177.78 L138.10,177.18 L139.00,176.57 L139.91,175.95 L140.81,175.33 L141.71,174.69 L142.62,174.05 L143.52,173.39 L144.43,172.73 L145.33,172.05 L146.24,171.37 L147.14,170.67 L148.05,169.97 L148.95,169.26 L149.85,168.53 L150.76,167.79 L151.66,167.05 L152.57,166.29 L153.47,165.52 L154.38,164.74 L155.28,163.95 L156.19,163.14 L157.09,162.33 L158.00,161.50 L158.90,160.66 L159.80,159.81 L160.71,158.94 L161.61,158.07 L162.52,157.18 L163.42,156.28 L164.33,155.38 L165.23,154.46 L166.14,153.53 L167.04,152.60 L167.95,151.65 L168.85,150.70 L169.75,149.73 L170.66,148.76 L171.56,147.78 L172.47,146.80 L173.37,145.80 L174.28,144.80 L175.18,143.79 L176.09,142.78 L176.99,141.76 L177.89,140.74 L178.80,139.71 L179.70,138.67 L180.61,137.64 L181.51,136.60 L182.42,135.56 L183.32,134.52 L184.23,133.47 L185.13,132.43 L186.04,131.39 L186.94,130.36 L187.84,129.32 L188.75,128.29 L189.65,127.27 L190.56,126.24 L191.46,125.23 L192.37,124.22 L193.27,123.22 L194.18,122.23 L195.08,121.25 L195.98,120.28 L196.89,119.32 L197.79,118.38 L198.70,117.45 L199.60,116.54 L200.51,115.65 L201.41,114.77 L202.32,113.91 L203.22,113.08 L204.13,112.26 L205.03,111.47 L205.93,110.70 L206.84,109.95 L207.74,109.22 L208.65,108.52 L209.55,107.84 L210.46,107.19 L211.36,106.56 L212.27,105.97 L213.17,105.44 L214.08,104.93 L214.98,104.46 L215.88,104.00 L216.79,103.58 L217.69,103.18 L218.60,102.80 L219.50,102.46 L220.41,102.13 L221.31,101.84 L222.22,101.56 L223.12,101.27 L224.02,101.00 L224.93,100.77 L225.83,100.56 L226.74,100.38 L227.64,100.23 L228.55,100.10 L229.45,100.01 L230.36,99.93 L231.26,99.89 L232.17,99.86 L233.07,99.86 L233.97,99.88 L234.88,99.92 L235.78,99.98 L236.69,100.06 L237.59,100.16 L238.50,100.27 L239.40,100.40 L240.31,100.55 L241.21,100.71 L242.12,100.88 L243.02,101.07 L243.92,101.27 L244.83,101.48 L245.73,101.70 L246.64,101.92 L247.54,102.16 L248.45,102.40 L249.35,102.65 L250.26,102.90 L251.16,103.16 L252.06,103.42 L252.97,103.63 L253.87,103.84 L254.78,104.05 L255.68,104.26 L256.59,104.47 L257.49,104.68 L258.40,104.89 L259.30,105.10 L260.21,105.30 L261.11,105.51 L262.01,105.71 L262.92,105.96 L263.82,106.21 L264.73,106.46 L265.63,106.70 L266.54,106.94 L267.44,107.18 L268.35,107.41 L269.25,107.64 L270.15,107.86 L271.06,108.08 L271.96,108.30 L272.87,108.53 L273.77,108.76 L274.68,108.98 L275.58,109.19 L276.49,109.40 L277.39,109.61 L278.30,109.80 L279.20,109.99 L280.10,110.18 L281.01,110.35 L281.91,110.52 L282.82,110.69 L283.72,110.85 L284.63,111.00 L285.53,111.15 L286.44,111.29 L287.34,111.43 L288.25,111.56 L289.15,111.70 L290.05,111.82 L290.96,111.95 L291.86,112.07 L292.77,112.16 L293.67,112.25 L294.58,112.34 L295.48,112.42 L296.39,112.50 L297.29,112.57 L298.19,112.65 L299.10,112.72 L300.00,112.79 L300.91,112.86 L301.81,112.92 L302.72,112.98 L303.62,113.04 L304.53,113.10 L305.43,113.16 L306.34,113.21 L307.24,113.26 L308.14,113.32 L309.05,113.37 L309.95,113.41 L310.86,113.46 L311.76,113.51 L312.67,113.55 L313.57,113.60 L314.48,113.64 L315.38,113.68 L316.28,113.73 L317.19,113.77 L318.09,113.81 L319.00,113.85 L319.90,113.88 L320.81,113.92 L321.71,113.96 L322.62,114.00 L323.52,114.03 L324.43,114.07 L325.33,114.10 L326.23,114.14 L327.14,114.17 L328.04,114.20 L328.95,114.24 L329.85,114.27 L330.76,114.30 L331.66,114.33 L332.57,114.36 L333.47,114.39 L334.38,114.42 L335.28,114.45 L336.18,114.47 L337.09,114.50 L337.99,114.53 L338.90,114.55 L339.80,114.58 L340.71,114.60 L341.61,114.63 L342.52,114.65 L343.42,114.67 L344.32,114.70 L345.23,114.72 L346.13,114.74 L347.04,114.76 L347.94,114.78 L348.85,114.80 L349.75,114.82 L350.66,114.84 L351.56,114.86 L352.47,114.88 L353.37,114.90 L354.27,114.91 L355.18,114.93 L356.08,114.95 L356.99,114.96 L357.89,114.98 L358.80,115.00 L359.70,115.01 L360.61,115.03 L361.51,115.04 L362.42,115.06 L363.32,115.07 L364.22,115.08 L365.13,115.10 L366.03,115.11 L366.94,115.12 L367.84,115.13 L368.75,115.15 L369.65,115.16 L370.56,115.17 L371.46,115.18 L372.36,115.19 L373.27,115.20 L374.17,115.21 L375.08,115.22 L375.98,115.23 L376.89,115.24 L377.79,115.25 L378.70,115.26 L379.60,115.27 L380.51,115.28 L381.41,115.28 L382.31,115.29 L383.22,115.30 L384.12,115.31 L385.03,115.32 L385.93,115.32 L386.84,115.33 L387.74,115.34 L388.65,115.34 L389.55,115.35 L390.45,115.36 L391.36,115.36 L392.26,115.37 L393.17,115.38 L394.07,115.38 L394.98,115.39 L395.88,115.40 L396.79,115.40 L397.69,115.41 L398.60,115.42 L399.50,115.42" fill="none" stroke="#ff8000" stroke-width="1.85"/>
<path d="M38.60,213.07 L39.50,212.98 L40.41,212.88 L41.31,212.79 L42.22,212.70 L43.12,212.60 L44.03,212.50 L44.93,212.41 L45.84,212.31 L46.74,212.21 L47.65,212.10 L48.55,212.00 L49.45,211.90 L50.36,211.79 L51.26,211.69 L52.17,211.58 L53.07,211.47 L53.98,211.36 L54.88,211.24 L55.79,211.13 L56.69,211.01 L57.59,210.90 L58.50,210.78 L59.40,210.66 L60.31,210.53 L61.21,210.41 L62.12,210.28 L63.02,210.15 L63.93,210.02 L64.83,209.89 L65.74,209.76 L66.64,209.62 L67.54,209.48 L68.45,209.34 L69.35,209.20 L70.26,209.05 L71.16,208.91 L72.07,208.76 L72.97,208.61 L73.88,208.45 L74.78,208.30 L75.68,208.14 L76.59,207.98 L77.49,207.81 L78.40,207.65 L79.30,207.48 L80.21,207.31 L81.11,207.13 L82.02,206.95 L82.92,206.77 L83.83,206.59 L84.73,206.41 L85.63,206.22 L86.54,206.03 L87.44,205.83 L88.35,205.64 L89.25,205.44 L90.16,205.23 L91.06,205.03 L91.97,204.82 L92.87,204.61 L93.78,204.39 L94.68,204.17 L95.58,203.95 L96.49,203.72 L97.39,203.50 L98.30,203.26 L99.20,203.03 L100.11,202.79 L101.01,202.55 L101.92,202.30 L102.82,202.05 L103.72,201.80 L104.63,201.54 L105.53,201.28 L106.44,201.02 L107.34,200.75 L108.25,200.48 L109.15,200.20 L110.06,199.92 L110.96,199.64 L111.87,199.35 L112.77,199.06 L113.67,198.76 L114.58,198.46 L115.48,198.16 L116.39,197.85 L117.29,197.54 L118.20,197.22 L119.10,196.90 L120.01,196.58 L120.91,196.25 L121.82,195.91 L122.72,195.57 L123.62,195.23 L124.53,194.88 L125.43,194.53 L126.34,194.18 L127.24,193.81 L128.15,193.45 L129.05,193.08 L129.96,192.70 L130.86,192.32 L131.76,191.94 L132.67,191.55 L133.57,191.15 L134.48,190.75 L135.38,190.35 L136.29,189.94 L137.19,189.53 L138.10,189.11 L139.00,188.68 L139.91,188.25 L140.81,187.82 L141.71,187.38 L142.62,186.93 L143.52,186.48 L144.43,186.02 L145.33,185.55 L146.24,185.08 L147.14,184.60 L148.05,184.12 L148.95,183.63 L149.85,183.13 L150.76,182.63 L151.66,182.12 L152.57,181.60 L153.47,181.07 L154.38,180.54 L155.28,180.00 L156.19,179.45 L157.09,178.89 L158.00,178.33 L158.90,177.75 L159.80,177.17 L160.71,176.58 L161.61,175.98 L162.52,175.37 L163.42,174.76 L164.33,174.13 L165.23,173.50 L166.14,172.86 L167.04,172.21 L167.95,171.56 L168.85,170.90 L169.75,170.23 L170.66,169.56 L171.56,168.89 L172.47,168.21 L173.37,167.53 L174.28,166.85 L175.18,166.16 L176.09,165.48 L176.99,164.79 L177.89,164.11 L178.80,163.42 L179.70,162.74 L180.61,162.05 L181.51,161.37 L182.42,160.70 L183.32,160.02 L184.23,159.35 L185.13,158.69 L186.04,158.03 L186.94,157.38 L187.84,156.73 L188.75,156.09 L189.65,155.46 L190.56,154.83 L191.46,154.22 L192.37,153.61 L193.27,153.01 L194.18,152.43 L195.08,151.85 L195.98,151.28 L196.89,150.78 L197.79,150.28 L198.70,149.80 L199.60,149.33 L200.51,148.87 L201.41,148.42 L202.32,147.98 L203.22,147.56 L204.13,147.15 L205.03,146.70 L205.93,146.27 L206.84,145.85 L207.74,145.44 L208.65,145.05 L209.55,144.68 L210.46,144.32 L211.36,143.98 L212.27,143.66 L213.17,143.39 L214.08,143.13 L214.98,142.90 L215.88,142.67 L216.79,142.47 L217.69,142.29 L218.60,142.12 L219.50,141.97 L220.41,141.82 L221.31,141.67 L222.22,141.54 L223.12,141.42 L224.02,141.33 L224.93,141.26 L225.83,141.21 L226.74,141.18 L227.64,141.17 L228.55,141.18 L229.45,141.21 L230.36,141.26 L231.26,141.32 L232.17,141.40 L233.07,141.50 L233.97,141.60 L234.88,141.72 L235.78,141.86 L236.69,142.00 L237.59,142.12 L238.50,142.24 L239.40,142.36 L240.31,142.49 L241.21,142.63 L242.12,142.76 L243.02,142.90 L243.92,143.04 L244.83,143.18 L245.73,143.35 L246.64,143.52 L247.54,143.69 L248.45,143.86 L249.35,144.03 L250.26,144.19 L251.16,144.35 L252.06,144.51 L252.97,144.67 L253.87,144.82 L254.78,144.97 L255.68,145.12 L256.59,145.26 L257.49,145.41 L258.40,145.55 L259.30,145.68 L260.21,145.82 L261.11,145.95 L262.01,146.08 L262.92,146.21 L263.82,146.33 L264.73,146.45 L265.63,146.57 L266.54,146.68 L267.44,146.79 L268.35,146.90 L269.25,147.01 L270.15,147.11 L271.06,147.21 L271.96,147.31 L272.87,147.40 L273.77,147.49 L274.68,147.57 L275.58,147.66 L276.49,147.74 L277.39,147.81 L278.30,147.89 L279.20,147.96 L280.10,148.02 L281.01,148.09 L281.91,148.15 L282.82,148.20 L283.72,148.26 L284.63,148.31 L285.53,148.36 L286.44,148.40 L287.34,148.44 L288.25,148.48 L289.15,148.51 L290.05,148.55 L290.96,148.57 L291.86,148.60 L292.77,148.62 L293.67,148.65 L294.58,148.66 L295.48,148.68 L296.39,148.69 L297.29,148.70 L298.19,148.71 L299.10,148.72 L300.00,148.72 L300.91,148.72 L301.81,148.72 L302.72,148.71 L303.62,148.71 L304.53,148.70 L305.43,148.69 L306.34,148.68 L307.24,148.66 L308.14,148.65 L309.05,148.63 L309.95,148.61 L310.86,148.58 L311.76,148.56 L312.67,148.53 L313.57,148.51 L314.48,148.48 L315.38,148.45 L316.28,148.41 L317.19,148.38 L318.09,148.34 L319.00,148.31 L319.90,148.27 L320.81,148.23 L321.71,148.19 L322.62,148.14 L323.52,148.10 L324.43,148.05 L325.33,148.01 L326.23,147.96 L327.14,147.91 L328.04,147.86 L328.95,147.81 L329.85,147.76 L330.76,147.71 L331.66,147.66 L332.57,147.60 L333.47,147.55 L334.38,147.49 L335.28,147.44 L336.18,147.38 L337.09,147.32 L337.99,147.26 L338.90,147.21 L339.80,147.15 L340.71,147.09 L341.61,147.03 L342.52,146.97 L343.42,146.91 L344.32,146.85 L345.23,146.79 L346.13,146.73 L347.04,146.67 L347.94,146.61 L348.85,146.55 L349.75,146.48 L350.66,146.42 L351.56,146.36 L352.47,146.30 L353.37,146.24 L354.27,146.18 L355.18,146.13 L356.08,146.07 L356.99,146.01 L357.89,145.95 L358.80,145.89 L359.70,145.84 L360.61,145.78 L361.51,145.72 L362.42,145.67 L363.32,145.61 L364.22,145.56 L365.13,145.51 L366.03,145.46 L366.94,145.40 L367.84,145.35 L368.75,145.31 L369.65,145.26 L370.56,145.21 L371.46,145.16 L372.36,145.12 L373.27,145.08 L374.17,145.03 L375.08,144.99 L375.98,144.95 L376.89,144.92 L377.79,144.88 L378.70,144.85 L379.60,144.81 L380.51,144.78 L381.41,144.75 L382.31,144.72 L383.22,144.69 L384.12,144.67 L385.03,144.65 L385.93,144.62 L386.84,144.60 L387.74,144.59 L388.65,144.57 L389.55,144.56 L390.45,144.55 L391.36,144.54 L392.26,144.53 L393.17,144.52 L394.07,144.52 L394.98,144.52 L395.88,144.52 L396.79,144.53 L397.69,144.53 L398.60,144.54 L399.50,144.55" fill="none" stroke="#ff8000" stroke-width="1.85"/>
<path d="M38.60,211.14 L39.50,210.95 L40.41,210.77 L41.31,210.59 L42.22,210.42 L43.12,210.26 L44.03,210.10 L44.93,209.94 L45.84,209.79 L46.74,209.65 L47.65,209.50 L48.55,209.36 L49.45,209.23 L50.36,209.10 L51.26,208.97 L52.17,208.84 L53.07,208.72 L53.98,208.60 L54.88,208.48 L55.79,208.36 L56.69,208.25 L57.59,208.13 L58.50,208.02 L59.40,207.91 L60.31,207.80 L61.21,207.69 L62.12,207.58 L63.02,207.47 L63.93,207.36 L64.83,207.25 L65.74,207.14 L66.64,207.03 L67.54,206.92 L68.45,206.81 L69.35,206.69 L70.26,206.58 L71.16,206.46 L72.07,206.34 L72.97,206.21 L73.88,206.09 L74.78,205.96 L75.68,205.83 L76.59,205.69 L77.49,205.56 L78.40,205.42 L79.30,205.27 L80.21,205.12 L81.11,204.97 L82.02,204.81 L82.92,204.64 L83.83,204.47 L84.73,204.30 L85.63,204.12 L86.54,203.94 L87.44,203.74 L88.35,203.55 L89.25,203.34 L90.16,203.13 L91.06,202.91 L91.97,202.69 L92.87,202.46 L93.78,202.22 L94.68,201.97 L95.58,201.72 L96.49,201.45 L97.39,201.18 L98.30,200.90 L99.20,200.61 L100.11,200.31 L101.01,200.00 L101.92,199.68 L102.82,199.36 L103.72,199.02 L104.63,198.68 L105.53,198.33 L106.44,197.97 L107.34,197.61 L108.25,197.24 L109.15,196.86 L110.06,196.48 L110.96,196.09 L111.87,195.70 L112.77,195.30 L113.67,194.90 L114.58,194.50 L115.48,194.09 L116.39,193.68 L117.29,193.27 L118.20,192.86 L119.10,192.44 L120.01,192.02 L120.91,191.61 L121.82,191.19 L122.72,190.77 L123.62,190.36 L124.53,189.94 L125.43,189.53 L126.34,189.12 L127.24,188.71 L128.15,188.30 L129.05,187.88 L129.96,187.47 L130.86,187.06 L131.76,186.64 L132.67,186.22 L133.57,185.80 L134.48,185.37 L135.38,184.93 L136.29,184.49 L137.19,184.04 L138.10,183.59 L139.00,183.12 L139.91,182.65 L140.81,182.16 L141.71,181.67 L142.62,181.17 L143.52,180.66 L144.43,180.13 L145.33,179.60 L146.24,179.06 L147.14,178.51 L148.05,177.95 L148.95,177.38 L149.85,176.79 L150.76,176.20 L151.66,175.60 L152.57,174.98 L153.47,174.36 L154.38,173.72 L155.28,173.07 L156.19,172.41 L157.09,171.73 L158.00,171.05 L158.90,170.35 L159.80,169.64 L160.71,168.92 L161.61,168.19 L162.52,167.44 L163.42,166.68 L164.33,165.91 L165.23,165.13 L166.14,164.34 L167.04,163.54 L167.95,162.74 L168.85,161.93 L169.75,161.13 L170.66,160.32 L171.56,159.50 L172.47,158.69 L173.37,157.87 L174.28,157.04 L175.18,156.22 L176.09,155.39 L176.99,154.55 L177.89,153.72 L178.80,152.88 L179.70,152.03 L180.61,151.18 L181.51,150.33 L182.42,149.47 L183.32,148.61 L184.23,147.74 L185.13,146.88 L186.04,146.00 L186.94,145.13 L187.84,144.26 L188.75,143.39 L189.65,142.52 L190.56,141.66 L191.46,140.80 L192.37,139.95 L193.27,139.10 L194.18,138.26 L195.08,137.43 L195.98,136.61 L196.89,135.80 L197.79,135.01 L198.70,134.23 L199.60,133.46 L200.51,132.71 L201.41,131.97 L202.32,131.26 L203.22,130.56 L204.13,129.88 L205.03,129.23 L205.93,128.60 L206.84,127.99 L207.74,127.40 L208.65,126.84 L209.55,126.31 L210.46,125.81 L211.36,125.33 L212.27,124.87 L213.17,124.45 L214.08,124.04 L214.98,123.66 L215.88,123.31 L216.79,122.98 L217.69,122.67 L218.60,122.39 L219.50,122.13 L220.41,121.89 L221.31,121.67 L222.22,121.47 L223.12,121.30 L224.02,121.14 L224.93,121.01 L225.83,120.89 L226.74,120.80 L227.64,120.72 L228.55,120.66 L229.45,120.62 L230.36,120.60 L231.26,120.59 L232.17,120.61 L233.07,120.64 L233.97,120.68 L234.88,120.74 L235.78,120.81 L236.69,120.90 L237.59,121.00 L238.50,121.12 L239.40,121.24 L240.31,121.38 L241.21,121.53 L242.12,121.69 L243.02,121.85 L243.92,122.03 L244.83,122.21 L245.73,122.41 L246.64,122.61 L247.54,122.81 L248.45,123.02 L249.35,123.24 L250.26,123.46 L251.16,123.68 L252.06,123.91 L252.97,124.14 L253.87,124.37 L254.78,124.61 L255.68,124.84 L256.59,125.07 L257.49,125.31 L258.40,125.54 L259.30,125.77 L260.21,126.00 L261.11,126.22 L262.01,126.45 L262.92,126.66 L263.82,126.87 L264.73,127.08 L265.63,127.28 L266.54,127.47 L267.44,127.66 L268.35,127.84 L269.25,128.01 L270.15,128.17 L271.06,128.33 L271.96,128.48 L272.87,128.62 L273.77,128.75 L274.68,128.88 L275.58,129.00 L276.49,129.12 L277.39,129.23 L278.30,129.33 L279.20,129.43 L280.10,129.52 L281.01,129.61 L281.91,129.69 L282.82,129.77 L283.72,129.84 L284.63,129.91 L285.53,129.97 L286.44,130.03 L287.34,130.08 L288.25,130.13 L289.15,130.18 L290.05,130.22 L290.96,130.26 L291.86,130.30 L292.77,130.33 L293.67,130.37 L294.58,130.39 L295.48,130.42 L296.39,130.44 L297.29,130.47 L298.19,130.48 L299.10,130.50 L300.00,130.52 L300.91,130.53 L301.81,130.55 L302.72,130.56 L303.62,130.57 L304.53,130.58 L305.43,130.59 L306.34,130.60 L307.24,130.61 L308.14,130.62 L309.05,130.63 L309.95,130.64 L310.86,130.65 L311.76,130.66 L312.67,130.67 L313.57,130.67 L314.48,130.68 L315.38,130.69 L316.28,130.69 L317.19,130.70 L318.09,130.71 L319.00,130.71 L319.90,130.72 L320.81,130.72 L321.71,130.73 L322.62,130.73 L323.52,130.73 L324.43,130.74 L325.33,130.74 L326.23,130.74 L327.14,130.75 L328.04,130.75 L328.95,130.75 L329.85,130.75 L330.76,130.75 L331.66,130.76 L332.57,130.76 L333.47,130.76 L334.38,130.76 L335.28,130.76 L336.18,130.76 L337.09,130.76 L337.99,130.76 L338.90,130.76 L339.80,130.76 L340.71,130.76 L341.61,130.75 L342.52,130.75 L343.42,130.75 L344.32,130.75 L345.23,130.75 L346.13,130.74 L347.04,130.74 L347.94,130.74 L348.85,130.74 L349.75,130.73 L350.66,130.73 L351.56,130.73 L352.47,130.72 L353.37,130.72 L354.27,130.71 L355.18,130.71 L356.08,130.70 L356.99,130.70 L357.89,130.70 L358.80,130.69 L359.70,130.69 L360.61,130.68 L361.51,130.68 L362.42,130.67 L363.32,130.66 L364.22,130.66 L365.13,130.65 L366.03,130.65 L366.94,130.64 L367.84,130.64 L368.75,130.63 L369.65,130.62 L370.56,130.62 L371.46,130.61 L372.36,130.60 L373.27,130.60 L374.17,130.59 L375.08,130.58 L375.98,130.58 L376.89,130.57 L377.79,130.56 L378.70,130.56 L379.60,130.55 L380.51,130.54 L381.41,130.54 L382.31,130.53 L383.22,130.52 L384.12,130.51 L385.03,130.51 L385.93,130.50 L386.84,130.49 L387.74,130.49 L388.65,130.48 L389.55,130.47 L390.45,130.46 L391.36,130.46 L392.26,130.45 L393.17,130.44 L394.07,130.43 L394.98,130.43 L395.88,130.42 L396.79,130.41 L397.69,130.41 L398.60,130.40 L399.50,130.39" fill="none" stroke="#000" stroke-width="1.1"/>
<path d="M38.60,209.98 L39.50,209.84 L40.41,209.71 L41.31,209.58 L42.22,209.45 L43.12,209.33 L44.03,209.20 L44.93,209.07 L45.84,208.94 L46.74,208.81 L47.65,208.68 L48.55,208.55 L49.45,208.43 L50.36,208.30 L51.26,208.17 L52.17,208.03 L53.07,207.90 L53.98,207.77 L54.88,207.64 L55.79,207.50 L56.69,207.37 L57.59,207.23 L58.50,207.10 L59.40,206.96 L60.31,206.82 L61.21,206.67 L62.12,206.53 L63.02,206.38 L63.93,206.24 L64.83,206.09 L65.74,205.94 L66.64,205.78 L67.54,205.63 L68.45,205.47 L69.35,205.31 L70.26,205.15 L71.16,204.98 L72.07,204.81 L72.97,204.64 L73.88,204.47 L74.78,204.29 L75.68,204.11 L76.59,203.93 L77.49,203.74 L78.40,203.55 L79.30,203.36 L80.21,203.16 L81.11,202.96 L82.02,202.75 L82.92,202.54 L83.83,202.33 L84.73,202.11 L85.63,201.89 L86.54,201.67 L87.44,201.44 L88.35,201.20 L89.25,200.97 L90.16,200.72 L91.06,200.47 L91.97,200.22 L92.87,199.96 L93.78,199.70 L94.68,199.43 L95.58,199.16 L96.49,198.88 L97.39,198.60 L98.30,198.31 L99.20,198.01 L100.11,197.71 L101.01,197.40 L101.92,197.09 L102.82,196.77 L103.72,196.45 L104.63,196.11 L105.53,195.78 L106.44,195.43 L107.34,195.08 L108.25,194.73 L109.15,194.36 L110.06,193.99 L110.96,193.61 L111.87,193.23 L112.77,192.84 L113.67,192.44 L114.58,192.03 L115.48,191.62 L116.39,191.20 L117.29,190.78 L118.20,190.35 L119.10,189.91 L120.01,189.47 L120.91,189.02 L121.82,188.57 L122.72,188.11 L123.62,187.64 L124.53,187.18 L125.43,186.71 L126.34,186.23 L127.24,185.75 L128.15,185.27 L129.05,184.78 L129.96,184.29 L130.86,183.80 L131.76,183.31 L132.67,182.81 L133.57,182.32 L134.48,181.82 L135.38,181.31 L136.29,180.81 L137.19,180.31 L138.10,179.80 L139.00,179.30 L139.91,178.79 L140.81,178.27 L141.71,177.75 L142.62,177.22 L143.52,176.67 L144.43,176.11 L145.33,175.53 L146.24,174.94 L147.14,174.32 L148.05,173.68 L148.95,173.01 L149.85,172.31 L150.76,171.58 L151.66,170.82 L152.57,170.03 L153.47,169.22 L154.38,168.39 L155.28,167.54 L156.19,166.67 L157.09,165.80 L158.00,164.91 L158.90,164.03 L159.80,163.14 L160.71,162.26 L161.61,161.39 L162.52,160.52 L163.42,159.65 L164.33,158.79 L165.23,157.93 L166.14,157.07 L167.04,156.21 L167.95,155.34 L168.85,154.46 L169.75,153.57 L170.66,152.67 L171.56,151.76 L172.47,150.83 L173.37,149.88 L174.28,148.91 L175.18,147.92 L176.09,146.90 L176.99,145.86 L177.89,144.79 L178.80,143.69 L179.70,142.57 L180.61,141.43 L181.51,140.28 L182.42,139.12 L183.32,137.95 L184.23,136.78 L185.13,135.62 L186.04,134.46 L186.94,133.32 L187.84,132.19 L188.75,131.08 L189.65,130.00 L190.56,128.94 L191.46,127.91 L192.37,126.90 L193.27,125.91 L194.18,124.95 L195.08,124.01 L195.98,123.10 L196.89,122.20 L197.79,121.33 L198.70,120.47 L199.60,119.64 L200.51,118.83 L201.41,118.03 L202.32,117.25 L203.22,116.49 L204.13,115.75 L205.03,115.02 L205.93,114.31 L206.84,113.62 L207.74,112.93 L208.65,112.27 L209.55,111.62 L210.46,110.98 L211.36,110.36 L212.27,109.76 L213.17,109.18 L214.08,108.62 L214.98,108.08 L215.88,107.57 L216.79,107.07 L217.69,106.61 L218.60,106.17 L219.50,105.76 L220.41,105.37 L221.31,105.02 L222.22,104.70 L223.12,104.41 L224.02,104.14 L224.93,103.91 L225.83,103.71 L226.74,103.53 L227.64,103.37 L228.55,103.25 L229.45,103.14 L230.36,103.06 L231.26,103.00 L232.17,102.96 L233.07,102.95 L233.97,102.95 L234.88,102.97 L235.78,103.00 L236.69,103.05 L237.59,103.12 L238.50,103.20 L239.40,103.30 L240.31,103.41 L241.21,103.53 L242.12,103.66 L243.02,103.81 L243.92,103.96 L244.83,104.13 L245.73,104.31 L246.64,104.49 L247.54,104.69 L248.45,104.89 L249.35,105.10 L250.26,105.32 L251.16,105.55 L252.06,105.78 L252.97,106.01 L253.87,106.26 L254.78,106.50 L255.68,106.76 L256.59,107.01 L257.49,107.27 L258.40,107.53 L259.30,107.79 L260.21,108.05 L261.11,108.32 L262.01,108.58 L262.92,108.85 L263.82,109.11 L264.73,109.37 L265.63,109.63 L266.54,109.89 L267.44,110.14 L268.35,110.39 L269.25,110.64 L270.15,110.88 L271.06,111.12 L271.96,111.35 L272.87,111.57 L273.77,111.79 L274.68,112.00 L275.58,112.20 L276.49,112.40 L277.39,112.59 L278.30,112.77 L279.20,112.94 L280.10,113.11 L281.01,113.29 L281.91,113.47 L282.82,113.64 L283.72,113.80 L284.63,113.96 L285.53,114.11 L286.44,114.25 L287.34,114.40 L288.25,114.53 L289.15,114.66 L290.05,114.79 L290.96,114.91 L291.86,115.03 L292.77,115.14 L293.67,115.25 L294.58,115.35 L295.48,115.45 L296.39,115.55 L297.29,115.65 L298.19,115.73 L299.10,115.80 L300.00,115.86 L300.91,115.92 L301.81,115.98 L302.72,116.04 L303.62,116.09 L304.53,116.14 L305.43,116.19 L306.34,116.24 L307.24,116.29 L308.14,116.34 L309.05,116.38 L309.95,116.42 L310.86,116.47 L311.76,116.51 L312.67,116.55 L313.57,116.58 L314.48,116.62 L315.38,116.65 L316.28,116.69 L317.19,116.71 L318.09,116.72 L319.00,116.72 L319.90,116.73 L320.81,116.73 L321.71,116.73 L322.62,116.73 L323.52,116.73 L324.43,116.72 L325.33,116.72 L326.23,116.72 L327.14,116.71 L328.04,116.70 L328.95,116.70 L329.85,116.69 L330.76,116.68 L331.66,116.67 L332.57,116.66 L333.47,116.64 L334.38,116.63 L335.28,116.63 L336.18,116.64 L337.09,116.65 L337.99,116.66 L338.90,116.67 L339.80,116.67 L340.71,116.68 L341.61,116.69 L342.52,116.70 L343.42,116.70 L344.32,116.71 L345.23,116.71 L346.13,116.72 L347.04,116.72 L347.94,116.73 L348.85,116.73 L349.75,116.74 L350.66,116.74 L351.56,116.74 L352.47,116.75 L353.37,116.75 L354.27,116.75 L355.18,116.75 L356.08,116.76 L356.99,116.76 L357.89,116.76 L358.80,116.76 L359.70,116.76 L360.61,116.77 L361.51,116.77 L362.42,116.77 L363.32,116.77 L364.22,116.78 L365.13,116.78 L366.03,116.78 L366.94,116.79 L367.84,116.79 L368.75,116.79 L369.65,116.80 L370.56,116.80 L371.46,116.81 L372.36,116.81 L373.27,116.82 L374.17,116.82 L375.08,116.83 L375.98,116.84 L376.89,116.85 L377.79,116.86 L378.70,116.86 L379.60,116.87 L380.51,116.88 L381.41,116.89 L382.31,116.91 L383.22,116.92 L384.12,116.93 L385.03,116.95 L385.93,116.96 L386.84,116.98 L387.74,116.99 L388.65,117.01 L389.55,117.03 L390.45,117.05 L391.36,117.07 L392.26,117.09 L393.17,117.11 L394.07,117.14 L394.98,117.16 L395.88,117.19 L396.79,117.21 L397.69,117.24 L398.60,117.27 L399.50,117.30 L399.50,125.70 L398.60,125.70 L397.69,125.69 L396.79,125.69 L395.88,125.68 L394.98,125.68 L394.07,125.67 L393.17,125.66 L392.26,125.66 L391.36,125.65 L390.45,125.64 L389.55,125.64 L388.65,125.63 L387.74,125.62 L386.84,125.61 L385.93,125.60 L385.03,125.59 L384.12,125.59 L383.22,125.58 L382.31,125.57 L381.41,125.56 L380.51,125.55 L379.60,125.54 L378.70,125.53 L377.79,125.52 L376.89,125.51 L375.98,125.50 L375.08,125.48 L374.17,125.47 L373.27,125.46 L372.36,125.45 L371.46,125.44 L370.56,125.43 L369.65,125.41 L368.75,125.40 L367.84,125.39 L366.94,125.38 L366.03,125.36 L365.13,125.35 L364.22,125.34 L363.32,125.33 L362.42,125.31 L361.51,125.30 L360.61,125.29 L359.70,125.27 L358.80,125.26 L357.89,125.25 L356.99,125.23 L356.08,125.22 L355.18,125.21 L354.27,125.20 L353.37,125.18 L352.47,125.17 L351.56,125.16 L350.66,125.14 L349.75,125.13 L348.85,125.12 L347.94,125.10 L347.04,125.09 L346.13,125.08 L345.23,125.06 L344.32,125.05 L343.42,125.04 L342.52,125.02 L341.61,125.01 L340.71,125.00 L339.80,124.99 L338.90,124.97 L337.99,124.96 L337.09,124.95 L336.18,124.94 L335.28,124.92 L334.38,124.91 L333.47,124.90 L332.57,124.89 L331.66,124.88 L330.76,124.87 L329.85,124.85 L328.95,124.84 L328.04,124.83 L327.14,124.82 L326.23,124.81 L325.33,124.80 L324.43,124.79 L323.52,124.78 L322.62,124.77 L321.71,124.76 L320.81,124.75 L319.90,124.74 L319.00,124.74 L318.09,124.73 L317.19,124.72 L316.28,124.72 L315.38,124.71 L314.48,124.70 L313.57,124.70 L312.67,124.70 L311.76,124.69 L310.86,124.69 L309.95,124.69 L309.05,124.66 L308.14,124.63 L307.24,124.61 L306.34,124.58 L305.43,124.56 L304.53,124.53 L303.62,124.51 L302.72,124.49 L301.81,124.47 L300.91,124.45 L300.00,124.44 L299.10,124.42 L298.19,124.41 L297.29,124.39 L296.39,124.37 L295.48,124.35 L294.58,124.33 L293.67,124.31 L292.77,124.29 L291.86,124.26 L290.96,124.23 L290.05,124.20 L289.15,124.16 L288.25,124.12 L287.34,124.07 L286.44,124.02 L285.53,123.97 L284.63,123.92 L283.72,123.87 L282.82,123.83 L281.91,123.77 L281.01,123.71 L280.10,123.64 L279.20,123.56 L278.30,123.47 L277.39,123.38 L276.49,123.27 L275.58,123.15 L274.68,123.03 L273.77,122.89 L272.87,122.74 L271.96,122.58 L271.06,122.42 L270.15,122.25 L269.25,122.07 L268.35,121.88 L267.44,121.69 L266.54,121.49 L265.63,121.28 L264.73,121.08 L263.82,120.87 L262.92,120.65 L262.01,120.44 L261.11,120.22 L260.21,120.01 L259.30,119.79 L258.40,119.57 L257.49,119.36 L256.59,119.15 L255.68,118.94 L254.78,118.73 L253.87,118.52 L252.97,118.33 L252.06,118.13 L251.16,117.94 L250.26,117.76 L249.35,117.58 L248.45,117.41 L247.54,117.25 L246.64,117.10 L245.73,116.95 L244.83,116.82 L243.92,116.69 L243.02,116.57 L242.12,116.47 L241.21,116.37 L240.31,116.29 L239.40,116.22 L238.50,116.16 L237.59,116.11 L236.69,116.08 L235.78,116.06 L234.88,116.05 L233.97,116.06 L233.07,116.09 L232.17,116.13 L231.26,116.19 L230.36,116.27 L229.45,116.36 L228.55,116.48 L227.64,116.61 L226.74,116.76 L225.83,116.93 L224.93,117.12 L224.02,117.33 L223.12,117.56 L222.22,117.81 L221.31,118.08 L220.41,118.37 L219.50,118.69 L218.60,119.02 L217.69,119.38 L216.79,119.75 L215.88,120.15 L214.98,120.57 L214.08,121.02 L213.17,121.48 L212.27,121.97 L211.36,122.48 L210.46,123.01 L209.55,123.56 L208.65,124.14 L207.74,124.74 L206.84,125.36 L205.93,126.01 L205.03,126.67 L204.13,127.36 L203.22,128.07 L202.32,128.80 L201.41,129.54 L200.51,130.31 L199.60,131.09 L198.70,131.90 L197.79,132.72 L196.89,133.55 L195.98,134.40 L195.08,135.26 L194.18,136.13 L193.27,137.01 L192.37,137.90 L191.46,138.80 L190.56,139.70 L189.65,140.61 L188.75,141.52 L187.84,142.44 L186.94,143.35 L186.04,144.27 L185.13,145.18 L184.23,146.10 L183.32,147.00 L182.42,147.91 L181.51,148.81 L180.61,149.71 L179.70,150.60 L178.80,151.49 L177.89,152.38 L176.99,153.25 L176.09,154.13 L175.18,154.99 L174.28,155.85 L173.37,156.71 L172.47,157.56 L171.56,158.40 L170.66,159.23 L169.75,160.06 L168.85,160.88 L167.95,161.69 L167.04,162.49 L166.14,163.28 L165.23,164.07 L164.33,164.84 L163.42,165.60 L162.52,166.36 L161.61,167.10 L160.71,167.83 L159.80,168.54 L158.90,169.25 L158.00,169.95 L157.09,170.63 L156.19,171.30 L155.28,171.97 L154.38,172.62 L153.47,173.26 L152.57,173.89 L151.66,174.51 L150.76,175.12 L149.85,175.72 L148.95,176.30 L148.05,176.88 L147.14,177.45 L146.24,178.01 L145.33,178.55 L144.43,179.09 L143.52,179.62 L142.62,180.14 L141.71,180.64 L140.81,181.14 L139.91,181.63 L139.00,182.11 L138.10,182.58 L137.19,183.04 L136.29,183.49 L135.38,183.94 L134.48,184.37 L133.57,184.81 L132.67,185.24 L131.76,185.66 L130.86,186.09 L129.96,186.51 L129.05,186.93 L128.15,187.36 L127.24,187.78 L126.34,188.21 L125.43,188.64 L124.53,189.08 L123.62,189.53 L122.72,189.97 L121.82,190.42 L120.91,190.87 L120.01,191.32 L119.10,191.76 L118.20,192.21 L117.29,192.65 L116.39,193.09 L115.48,193.52 L114.58,193.95 L113.67,194.37 L112.77,194.78 L111.87,195.18 L110.96,195.58 L110.06,195.96 L109.15,196.34 L108.25,196.71 L107.34,197.06 L106.44,197.42 L105.53,197.76 L104.63,198.10 L103.72,198.42 L102.82,198.74 L101.92,199.06 L101.01,199.36 L100.11,199.66 L99.20,199.96 L98.30,200.24 L97.39,200.52 L96.49,200.80 L95.58,201.06 L94.68,201.32 L93.78,201.58 L92.87,201.83 L91.97,202.07 L91.06,202.31 L90.16,202.55 L89.25,202.77 L88.35,203.00 L87.44,203.22 L86.54,203.43 L85.63,203.64 L84.73,203.85 L83.83,204.05 L82.92,204.25 L82.02,204.44 L81.11,204.63 L80.21,204.82 L79.30,205.00 L78.40,205.18 L77.49,205.35 L76.59,205.52 L75.68,205.69 L74.78,205.86 L73.88,206.02 L72.97,206.18 L72.07,206.34 L71.16,206.49 L70.26,206.64 L69.35,206.79 L68.45,206.94 L67.54,207.08 L66.64,207.22 L65.74,207.36 L64.83,207.50 L63.93,207.64 L63.02,207.77 L62.12,207.91 L61.21,208.04 L60.31,208.17 L59.40,208.30 L58.50,208.43 L57.59,208.55 L56.69,208.68 L55.79,208.81 L54.88,208.93 L53.98,209.05 L53.07,209.18 L52.17,209.30 L51.26,209.43 L50.36,209.55 L49.45,209.67 L48.55,209.80 L47.65,209.92 L46.74,210.04 L45.84,210.17 L44.93,210.29 L44.03,210.42 L43.12,210.54 L42.22,210.67 L41.31,210.80 L40.41,210.93 L39.50,211.06 L38.60,211.19 Z" fill="#ff0000"/>
<path d="M38.60,210.64 L39.50,210.45 L40.41,210.27 L41.31,210.09 L42.22,209.91 L43.12,209.75 L44.03,209.58 L44.93,209.42 L45.84,209.27 L46.74,209.11 L47.65,208.96 L48.55,208.82 L49.45,208.68 L50.36,208.54 L51.26,208.40 L52.17,208.27 L53.07,208.13 L53.98,208.00 L54.88,207.87 L55.79,207.74 L56.69,207.62 L57.59,207.49 L58.50,207.37 L59.40,207.24 L60.31,207.12 L61.21,206.99 L62.12,206.87 L63.02,206.74 L63.93,206.62 L64.83,206.49 L65.74,206.36 L66.64,206.24 L67.54,206.10 L68.45,205.97 L69.35,205.84 L70.26,205.70 L71.16,205.56 L72.07,205.42 L72.97,205.27 L73.88,205.12 L74.78,204.97 L75.68,204.82 L76.59,204.66 L77.49,204.49 L78.40,204.32 L79.30,204.15 L80.21,203.97 L81.11,203.79 L82.02,203.60 L82.92,203.41 L83.83,203.21 L84.73,203.00 L85.63,202.79 L86.54,202.57 L87.44,202.34 L88.35,202.11 L89.25,201.87 L90.16,201.63 L91.06,201.37 L91.97,201.11 L92.87,200.84 L93.78,200.57 L94.68,200.29 L95.58,200.00 L96.49,199.71 L97.39,199.41 L98.30,199.11 L99.20,198.79 L100.11,198.48 L101.01,198.15 L101.92,197.82 L102.82,197.49 L103.72,197.15 L104.63,196.80 L105.53,196.45 L106.44,196.09 L107.34,195.73 L108.25,195.36 L109.15,194.99 L110.06,194.61 L110.96,194.22 L111.87,193.84 L112.77,193.44 L113.67,193.05 L114.58,192.64 L115.48,192.24 L116.39,191.82 L117.29,191.41 L118.20,190.99 L119.10,190.56 L120.01,190.14 L120.91,189.70 L121.82,189.27 L122.72,188.83 L123.62,188.38 L124.53,187.93 L125.43,187.48 L126.34,187.03 L127.24,186.57 L128.15,186.11 L129.05,185.64 L129.96,185.17 L130.86,184.70 L131.76,184.23 L132.67,183.75 L133.57,183.26 L134.48,182.78 L135.38,182.29 L136.29,181.80 L137.19,181.30 L138.10,180.80 L139.00,180.30 L139.91,179.79 L140.81,179.28 L141.71,178.76 L142.62,178.23 L143.52,177.69 L144.43,177.14 L145.33,176.57 L146.24,175.99 L147.14,175.40 L148.05,174.79 L148.95,174.15 L149.85,173.50 L150.76,172.83 L151.66,172.13 L152.57,171.42 L153.47,170.68 L154.38,169.93 L155.28,169.16 L156.19,168.38 L157.09,167.58 L158.00,166.78 L158.90,165.96 L159.80,165.14 L160.71,164.30 L161.61,163.47 L162.52,162.63 L163.42,161.79 L164.33,160.94 L165.23,160.09 L166.14,159.24 L167.04,158.39 L167.95,157.53 L168.85,156.66 L169.75,155.79 L170.66,154.92 L171.56,154.03 L172.47,153.14 L173.37,152.25 L174.28,151.34 L175.18,150.43 L176.09,149.50 L176.99,148.57 L177.89,147.63 L178.80,146.67 L179.70,145.71 L180.61,144.73 L181.51,143.75 L182.42,142.76 L183.32,141.76 L184.23,140.75 L185.13,139.74 L186.04,138.72 L186.94,137.71 L187.84,136.69 L188.75,135.68 L189.65,134.67 L190.56,133.66 L191.46,132.66 L192.37,131.67 L193.27,130.68 L194.18,129.70 L195.08,128.74 L195.98,127.79 L196.89,126.85 L197.79,125.93 L198.70,125.04 L199.60,124.17 L200.51,123.32 L201.41,122.51 L202.32,121.72 L203.22,120.97 L204.13,120.24 L205.03,119.54 L205.93,118.88 L206.84,118.24 L207.74,117.63 L208.65,117.04 L209.55,116.49 L210.46,115.96 L211.36,115.46 L212.27,114.98 L213.17,114.53 L214.08,114.10 L214.98,113.70 L215.88,113.33 L216.79,112.98 L217.69,112.65 L218.60,112.35 L219.50,112.06 L220.41,111.81 L221.31,111.57 L222.22,111.36 L223.12,111.16 L224.02,110.99 L224.93,110.84 L225.83,110.71 L226.74,110.60 L227.64,110.51 L228.55,110.43 L229.45,110.38 L230.36,110.34 L231.26,110.33 L232.17,110.32 L233.07,110.34 L233.97,110.38 L234.88,110.42 L235.78,110.49 L236.69,110.57 L237.59,110.67 L238.50,110.78 L239.40,110.90 L240.31,111.04 L241.21,111.19 L242.12,111.36 L243.02,111.53 L243.92,111.72 L244.83,111.91 L245.73,112.12 L246.64,112.33 L247.54,112.55 L248.45,112.78 L249.35,113.02 L250.26,113.26 L251.16,113.51 L252.06,113.77 L252.97,114.02 L253.87,114.29 L254.78,114.55 L255.68,114.82 L256.59,115.09 L257.49,115.36 L258.40,115.64 L259.30,115.91 L260.21,116.18 L261.11,116.45 L262.01,116.72 L262.92,116.99 L263.82,117.26 L264.73,117.52 L265.63,117.77 L266.54,118.02 L267.44,118.27 L268.35,118.51 L269.25,118.74 L270.15,118.97 L271.06,119.18 L271.96,119.39 L272.87,119.59 L273.77,119.78 L274.68,119.96 L275.58,120.13 L276.49,120.29 L277.39,120.43 L278.30,120.57 L279.20,120.69 L280.10,120.81 L281.01,120.92 L281.91,121.01 L282.82,121.10 L283.72,121.19 L284.63,121.26 L285.53,121.33 L286.44,121.39 L287.34,121.44 L288.25,121.49 L289.15,121.53 L290.05,121.57 L290.96,121.61 L291.86,121.65 L292.77,121.69 L293.67,121.72 L294.58,121.75 L295.48,121.78 L296.39,121.80 L297.29,121.82 L298.19,121.84 L299.10,121.86 L300.00,121.88 L300.91,121.90 L301.81,121.91 L302.72,121.93 L303.62,121.95 L304.53,121.97 L305.43,121.98 L306.34,122.00 L307.24,122.02 L308.14,122.04 L309.05,122.06 L309.95,122.08 L310.86,122.08 L311.76,122.09 L312.67,122.09 L313.57,122.10 L314.48,122.11 L315.38,122.11 L316.28,122.12 L317.19,122.13 L318.09,122.13 L319.00,122.14 L319.90,122.15 L320.81,122.16 L321.71,122.16 L322.62,122.17 L323.52,122.18 L324.43,122.19 L325.33,122.20 L326.23,122.21 L327.14,122.22 L328.04,122.22 L328.95,122.23 L329.85,122.24 L330.76,122.25 L331.66,122.26 L332.57,122.27 L333.47,122.28 L334.38,122.29 L335.28,122.30 L336.18,122.31 L337.09,122.32 L337.99,122.33 L338.90,122.34 L339.80,122.35 L340.71,122.36 L341.61,122.37 L342.52,122.38 L343.42,122.39 L344.32,122.41 L345.23,122.42 L346.13,122.43 L347.04,122.44 L347.94,122.45 L348.85,122.46 L349.75,122.47 L350.66,122.48 L351.56,122.49 L352.47,122.50 L353.37,122.52 L354.27,122.53 L355.18,122.54 L356.08,122.55 L356.99,122.56 L357.89,122.57 L358.80,122.58 L359.70,122.59 L360.61,122.60 L361.51,122.62 L362.42,122.63 L363.32,122.64 L364.22,122.65 L365.13,122.66 L366.03,122.67 L366.94,122.68 L367.84,122.69 L368.75,122.70 L369.65,122.71 L370.56,122.72 L371.46,122.73 L372.36,122.75 L373.27,122.76 L374.17,122.77 L375.08,122.78 L375.98,122.79 L376.89,122.80 L377.79,122.81 L378.70,122.82 L379.60,122.83 L380.51,122.83 L381.41,122.84 L382.31,122.85 L383.22,122.86 L384.12,122.87 L385.03,122.88 L385.93,122.89 L386.84,122.90 L387.74,122.91 L388.65,122.91 L389.55,122.92 L390.45,122.93 L391.36,122.94 L392.26,122.95 L393.17,122.95 L394.07,122.96 L394.98,122.97 L395.88,122.97 L396.79,122.98 L397.69,122.99 L398.60,122.99 L399.50,123.00" fill="none" stroke="#000" stroke-width="1.1"/>
</g>
<rect x="38.6" y="0.4" width="360.9" height="222.5" fill="none" stroke="#000" stroke-width="1.15"/>
<path d="M38.60,222.9 v-3.2 M38.60,0.4 v3.2 M61.16,222.9 v-1.9 M61.16,0.4 v1.9 M83.71,222.9 v-1.9 M83.71,0.4 v1.9 M106.27,222.9 v-1.9 M106.27,0.4 v1.9 M128.82,222.9 v-3.2 M128.82,0.4 v3.2 M151.38,222.9 v-1.9 M151.38,0.4 v1.9 M173.94,222.9 v-1.9 M173.94,0.4 v1.9 M196.49,222.9 v-1.9 M196.49,0.4 v1.9 M219.05,222.9 v-3.2 M219.05,0.4 v3.2 M241.61,222.9 v-1.9 M241.61,0.4 v1.9 M264.16,222.9 v-1.9 M264.16,0.4 v1.9 M286.72,222.9 v-1.9 M286.72,0.4 v1.9 M309.27,222.9 v-3.2 M309.27,0.4 v3.2 M331.83,222.9 v-1.9 M331.83,0.4 v1.9 M354.39,222.9 v-1.9 M354.39,0.4 v1.9 M376.94,222.9 v-1.9 M376.94,0.4 v1.9 M399.50,222.9 v-3.2 M399.50,0.4 v3.2 M38.6,222.90 h3.2 M399.5,222.90 h-3.2 M38.6,209.79 h1.9 M399.5,209.79 h-1.9 M38.6,196.69 h1.9 M399.5,196.69 h-1.9 M38.6,183.58 h1.9 M399.5,183.58 h-1.9 M38.6,170.47 h1.9 M399.5,170.47 h-1.9 M38.6,157.37 h3.2 M399.5,157.37 h-3.2 M38.6,144.26 h1.9 M399.5,144.26 h-1.9 M38.6,131.15 h1.9 M399.5,131.15 h-1.9 M38.6,118.04 h1.9 M399.5,118.04 h-1.9 M38.6,104.94 h1.9 M399.5,104.94 h-1.9 M38.6,91.83 h3.2 M399.5,91.83 h-3.2 M38.6,78.72 h1.9 M399.5,78.72 h-1.9 M38.6,65.62 h1.9 M399.5,65.62 h-1.9 M38.6,52.51 h1.9 M399.5,52.51 h-1.9 M38.6,39.40 h1.9 M399.5,39.40 h-1.9 M38.6,26.30 h3.2 M399.5,26.30 h-3.2 M38.6,13.19 h1.9 M399.5,13.19 h-1.9" fill="none" stroke="#000" stroke-width="1"/>
<g filter="url(#tf)" text-rendering="geometricPrecision">
<text x="38.60" y="235.8" text-anchor="middle" font-size="13.4">340</text>
<text x="128.82" y="235.8" text-anchor="middle" font-size="13.4">342</text>
<text x="219.05" y="235.8" text-anchor="middle" font-size="13.4">344</text>
<text x="309.27" y="235.8" text-anchor="middle" font-size="13.4">346</text>
<text x="399.50" y="235.8" text-anchor="middle" font-size="13.4">348</text>
<text x="35.9" y="226.80" text-anchor="end" font-size="13.4">0.0</text>
<text x="35.9" y="161.27" text-anchor="end" font-size="13.4">0.5</text>
<text x="35.9" y="95.73" text-anchor="end" font-size="13.4">1.0</text>
<text x="35.9" y="30.20" text-anchor="end" font-size="13.4">1.5</text>
<path d="M188.8,254.2 l1.6,-0.9 l3.2,5.8 l3.4,-13.1 h10.4" fill="none" stroke="#000" stroke-width="0.9"/>
<text x="200.0" y="259.0" font-size="14.6" font-style="italic">s</text>
<text x="213.1" y="259.0" font-size="14.6">[GeV]</text>
<g transform="translate(10.4,129.2) rotate(-90)"><text x="0" y="0" font-size="14.6"><tspan font-style="italic" font-size="17">σ</tspan><tspan dx="1.6">[pb]</tspan></text></g>
</g>
</svg>
</body></html>
